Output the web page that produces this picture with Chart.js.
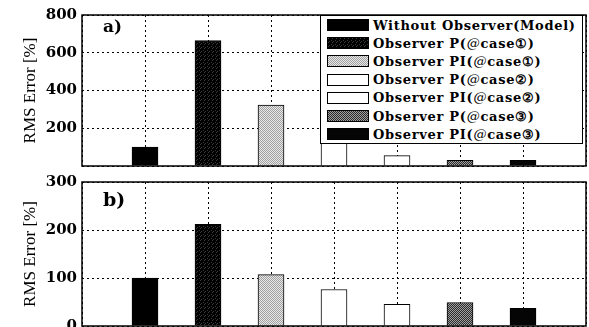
<!DOCTYPE html>
<html>
<head>
<meta charset="utf-8">
<script src="https://cdn.jsdelivr.net/npm/chart.js@4"></script>
<style>
  html, body { margin: 0; padding: 0; background: #fff; overflow: hidden; }
  body { width: 589px; height: 327px; position: relative; }
  #wrapA { position: absolute; left: 0; top: 0; width: 589px; height: 180px; }
  #wrapB { position: absolute; left: 0; top: 160px; width: 589px; height: 180px; }
  #legend {
    position: absolute; left: 320px; top: 15px; width: 263px; height: 129px;
    border: 1px solid #000; background: #fff; box-sizing: border-box;
    padding: 0 0 0 6px;
    font-family: "DejaVu Serif", serif; font-size: 13px; font-weight: bold; color: #000;
    letter-spacing: 0.7px;
  }
  .row { height: 18.2px; display: flex; align-items: center; white-space: nowrap; }
  .sw { width: 42px; height: 12px; border: 1px solid #000; box-sizing: border-box; margin-right: 4px; flex: none; }
  .row i { font-weight: normal; }
</style>
</head>
<body>
<div id="wrapA"><canvas id="chartA"></canvas></div>
<div id="wrapB"><canvas id="chartB"></canvas></div>
<div id="legend"></div>
<script>
const series = [
    "Without Observer(Model)",
    "Observer P(@case\u2460)",
    "Observer PI(@case\u2460)",
    "Observer P(@case\u2461)",
    "Observer PI(@case\u2461)",
    "Observer P(@case\u2462)",
    "Observer PI(@case\u2462)"
];
const rmsA = [100, 665, 323, 160, 55, 30, 30];
const rmsB = [100, 212, 107, 76, 45, 49, 37];
const ticksA = [0, 200, 400, 600, 800];
const ticksB = [0, 100, 200, 300];

// little dither patterns like the scanned print
function makePattern(base, dot, every, ky) {
    const c = document.createElement("canvas");
    c.width = 4; c.height = 4;
    const g = c.getContext("2d");
    g.fillStyle = base;
    g.fillRect(0, 0, 4, 4);
    g.fillStyle = dot;
    for (let y = 0; y < 4; y++) {
        for (let x = 0; x < 4; x++) {
            if ((x + y * ky) % every === 0) g.fillRect(x, y, 1, 1);
        }
    }
    return c;
}
const tiles = [
    null,
    makePattern("#000", "#3a3a3a", 7, 2),
    makePattern("#e8e8e8", "#a0a0a0", 2, 1),
    null,
    null,
    makePattern("#2a2a2a", "#a0a0a0", 2, 1),
    null
];
const plain = ["#000", null, null, "#fff", "#fff", null, "#050505"];

const probe = document.createElement("canvas").getContext("2d");
const fills = tiles.map((t, i) => t ? probe.createPattern(t, "repeat") : plain[i]);

// legend
const legend = document.getElementById("legend");
series.forEach((name, i) => {
    const row = document.createElement("div");
    row.className = "row";
    const sw = document.createElement("span");
    sw.className = "sw";
    if (tiles[i]) sw.style.backgroundImage = "url(" + tiles[i].toDataURL() + ")";
    else sw.style.background = plain[i];
    const txt = document.createElement("span");
    txt.innerHTML = name.replace("@", "<i>@</i>");
    row.appendChild(sw);
    row.appendChild(txt);
    legend.appendChild(row);
});

const framePlugin = {
    id: "frame",
    afterDraw(chart, args, opts) {
        const a = chart.chartArea;
        const ctx = chart.ctx;
        ctx.save();
        ctx.strokeStyle = "#000";
        ctx.lineWidth = 1.5;
        ctx.strokeRect(a.left, a.top, a.right - a.left, a.bottom - a.top);
        ctx.fillStyle = "#000";
        ctx.font = "bold " + opts.size + "px 'DejaVu Serif', serif";
        ctx.textBaseline = "top";
        ctx.fillText(opts.tag, a.left + opts.dx, a.top + opts.dy);
        ctx.restore();
    }
};

function makeChart(id, values, ticks, tag, pad, dy, size) {
    const labels = ["", ...series, ""];
    const top = ticks[ticks.length - 1];
    return new Chart(document.getElementById(id), {
        type: "bar",
        data: {
            labels: labels,
            datasets: [{
                data: [null, ...values, null],
                backgroundColor: [null, ...fills, null],
                borderColor: "#000",
                borderWidth: 1,
                borderSkipped: "bottom",
                barThickness: 26
            }]
        },
        options: {
            responsive: true,
            maintainAspectRatio: false,
            animation: false,
            layout: { padding: pad },
            plugins: {
                legend: { display: false },
                tooltip: { enabled: false },
                frame: { tag: tag, dx: 21, dy: dy, size: size }
            },
            scales: {
                x: {
                    offset: false,
                    grid: { offset: false, color: "#000", lineWidth: 1, drawTicks: false },
                    border: { display: false, dash: [2, 3] },
                    ticks: { display: false }
                },
                y: {
                    min: 0,
                    max: top,
                    afterBuildTicks: s => { s.ticks = ticks.map(v => ({ value: v })); },
                    afterFit: s => { s.width = 82; },
                    grid: { color: "#000", lineWidth: 1, drawTicks: false },
                    border: { display: false, dash: [2, 3] },
                    ticks: {
                        padding: 5,
                        color: "#000",
                        font: { family: "'DejaVu Serif', serif", size: 15, weight: "bold" },
                        callback: v => (id === "chartA" && v === 0) ? "" : v
                    },
                    title: {
                        display: true,
                        text: "RMS Error [%]",
                        color: "#000",
                        font: { family: "'Liberation Serif', serif", size: 17 },
                        padding: { top: 20, bottom: 0 }
                    }
                }
            }
        },
        plugins: [framePlugin]
    });
}

makeChart("chartA", rmsA, ticksA, "a)", { top: 15, right: 3, bottom: 5, left: 0 }, 4, 17);
makeChart("chartB", rmsB, ticksB, "b)", { top: 22, right: 3, bottom: 14, left: 0 }, 10, 19);
</script>
</body>
</html>
